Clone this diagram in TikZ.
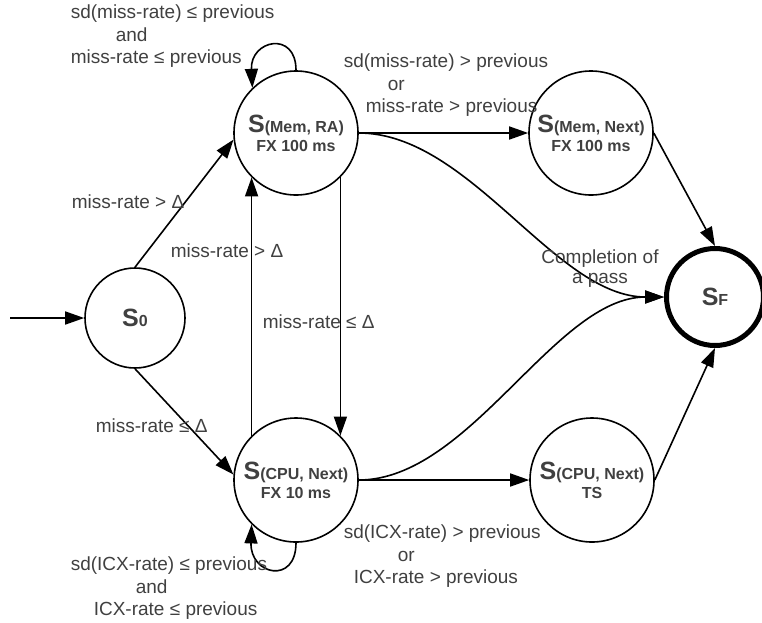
\documentclass[tikz,border=0pt]{standalone}
\usepackage{fontspec}
\setmainfont{Liberation Sans}
\usetikzlibrary{arrows.meta}
\definecolor{labelgray}{HTML}{404040}
\newcommand{\stname}[1]{{\fontsize{25}{25}\selectfont S}#1}

\begin{document}
\begin{tikzpicture}[x=1pt, y=-1pt, line width=1.6pt,
  state/.style={circle, draw, line width=1.6pt, minimum size=124pt, inner sep=0pt,
    align=center, text=labelgray, font=\bfseries\fontsize{16}{19}\selectfont},
  small state/.style={state, minimum size=100pt},
  lbl/.style={inner sep=0pt, align=left, text=labelgray, font=\fontsize{19}{22.5}\selectfont},
  >={Triangle[length=19pt,width=13pt]}]

\useasboundingbox (0,0) rectangle (762,622);

% states
\node[small state] (s0)  at (135,318) {\stname{0}};
\node[state]       (smr) at (296,133) {\stname{(Mem, RA)}\\FX 100 ms};
\node[state]       (scn) at (296,480) {\stname{(CPU, Next)}\\FX 10 ms};
\node[state]       (smn) at (591,133) {\stname{(Mem, Next)}\\FX 100 ms};
\node[state]       (sts) at (592,480) {\stname{(CPU, Next)}\\TS};
\node[small state, line width=5pt, minimum size=97pt] (sf) at (715,297) {\stname{F}};

% transitions
\coordinate (start) at (10,318);
\draw[->] (start) -- (s0);
\draw[->] (s0.north) -- (smr.186);
\draw[->] (s0.south) -- (scn.175);
\draw[->] (scn.135) -- (smr.225);
\draw[->] (smr.315) -- (scn.45);
\draw[->] (smr.east) -- (smn.west);
\draw[->] (scn.east) -- (sts.west);
\draw[->] (smr.east) .. controls (470,133) and (555,297) .. (sf.west);
\draw[->] (scn.east) .. controls (470,480) and (555,297) .. (sf.west);
\draw[->] (smn.east) -- (sf.north);
\draw[->] (sts.east) -- (sf.south);
\draw[->] (smr.north) .. controls (296,30) and (250,40) .. (smr.134);
\draw[->] (scn.south) .. controls (296,585) and (250,575) .. (scn.225);

% labels
\node[lbl, anchor=north west] (kmr) at (70,4) {sd(miss-rate) ≤ previous\\\hspace*{45pt}and\\miss-rate ≤ previous};
\node[lbl, anchor=north west] (tmr) at (343,53) {sd(miss-rate) > previous\\\hspace*{44pt}or\\\hspace*{22pt}miss-rate > previous};
\node[lbl, anchor=base west] (up1) at (71,208) {miss-rate > Δ};
\node[lbl, anchor=base west] (up2) at (170,257) {miss-rate > Δ};
\node[lbl, anchor=base west] (dn1) at (262,328) {miss-rate ≤ Δ};
\node[lbl, anchor=base west] (dn2) at (95,432) {miss-rate ≤ Δ};
\node[lbl, anchor=north, align=center] (done) at (600,249) {Completion of\\[-2.5pt]a pass};
\node[lbl, anchor=north west] (tcn) at (343,524) {sd(ICX-rate) > previous\\\hspace*{54pt}or\\\hspace*{10pt}ICX-rate > previous};
\node[lbl, anchor=north west] (kcn) at (70,556) {sd(ICX-rate) ≤ previous\\\hspace*{65pt}and\\\hspace*{23pt}ICX-rate ≤ previous};
\end{tikzpicture}
\end{document}
